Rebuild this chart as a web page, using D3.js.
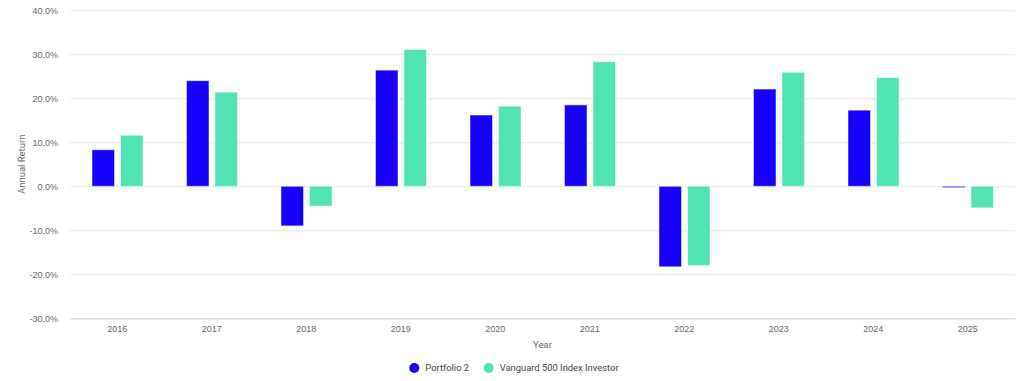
<!DOCTYPE html>
<html>
<head>
<meta charset="utf-8">
<script src="https://cdn.jsdelivr.net/npm/d3@7"></script>
<style>
  html, body { margin: 0; padding: 0; background: #fff; }
  svg { display: block; font-family: Roboto, "Noto Sans", sans-serif; }
</style>
</head>
<body>
<svg id="chart" width="1024" height="381"></svg>
<script>
const years = ["2016","2017","2018","2019","2020","2021","2022","2023","2024","2025"];
const seriesNames = ["Portfolio 2", "Vanguard 500 Index Investor"];
const portfolio2 = [8.3, 24.0, -9.0, 26.4, 16.2, 18.5, -18.3, 22.1, 17.3, -0.3];
const vanguard500 = [11.6, 21.4, -4.5, 31.1, 18.2, 28.3, -18.0, 25.9, 24.7, -4.9];
const seriesColors = ["#1400fc", "#50e3b4"];
const yTicks = [-30, -20, -10, 0, 10, 20, 30, 40];

const svg = d3.select("#chart");
const margin = {left: 70, right: 9, top: 10.3, bottom: 62.7};
const W = 1024, H = 381;

const x = d3.scaleBand().domain(years).range([margin.left, W - margin.right]).paddingInner(0).paddingOuter(0);
const y = d3.scaleLinear().domain([-30, 40]).range([H - margin.bottom, margin.top]);
const series = [portfolio2, vanguard500];
const x1 = d3.scaleBand().domain([0, 1]).range([22, x.bandwidth() - 21.5]).paddingInner(0.21);

// grid
const yAxis = d3.axisLeft(y).tickValues(yTicks).tickSize(-(W - margin.left - margin.right))
  .tickFormat(d => d.toFixed(1) + "%").tickPadding(12);
const gy = svg.append("g").attr("transform", `translate(${margin.left},0)`).call(yAxis);
gy.select(".domain").remove();
gy.selectAll(".tick line").attr("stroke", "#e6e6e6");
gy.selectAll(".tick text").attr("fill", "#666").style("font-size", "9px");

// bottom axis line
const xAxis = d3.axisBottom(x).tickSize(0).tickPadding(7);
const gx = svg.append("g").attr("transform", `translate(0,${y(-30)})`).call(xAxis);
gx.select(".domain").attr("stroke", "#ccd6eb");
gx.selectAll(".tick text").attr("fill", "#666").style("font-size", "9px");

// bars
series.forEach((vals, si) => {
  svg.append("g").selectAll("rect").data(vals).join("rect")
    .attr("x", (d, i) => x(years[i]) + x1(si))
    .attr("width", x1.bandwidth())
    .attr("y", d => y(Math.max(0, d)))
    .attr("height", d => Math.abs(y(d) - y(0)))
    .attr("fill", seriesColors[si])
    .attr("stroke", "#fff").attr("stroke-opacity", 0.5).attr("stroke-width", 1);
});

// axis titles
svg.append("text").attr("transform", `translate(25,${(y(40)+y(-30))/2}) rotate(-90)`)
  .attr("text-anchor", "middle").attr("fill", "#666").style("font-size", "9.5px").text("Annual Return");
svg.append("text").attr("x", (margin.left + W - margin.right) / 2).attr("y", 348)
  .attr("text-anchor", "middle").attr("fill", "#666").style("font-size", "9.5px").text("Year");

// legend
const legend = svg.append("g");
const legendPos = [414.3, 488.7];
seriesNames.forEach((name, i) => {
  legend.append("circle").attr("cx", legendPos[i]).attr("cy", 368).attr("r", 5).attr("fill", seriesColors[i]);
  legend.append("text").attr("x", legendPos[i] + 11).attr("y", 371.3).attr("fill", "#444")
    .style("font-size", "9.4px").text(name);
});
</script>
</body>
</html>
